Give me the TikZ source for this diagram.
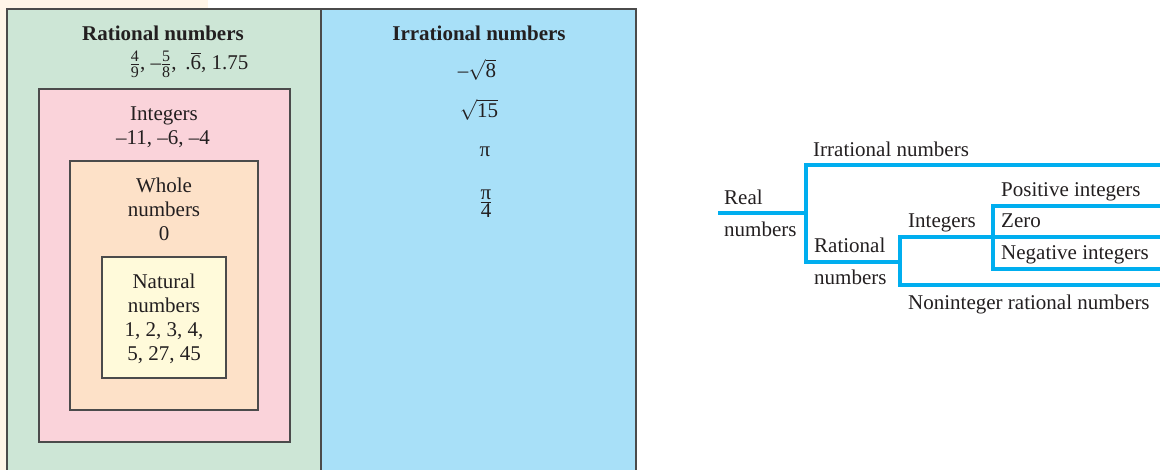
\documentclass[tikz,border=0pt]{standalone}
\usepackage{amsmath}
\usepackage{fontspec}
\setmainfont{Liberation Serif}
\definecolor{creambg}{RGB}{255,245,232}
\definecolor{ratgreen}{RGB}{205,230,214}
\definecolor{irrblue}{RGB}{168,224,248}
\definecolor{intpink}{RGB}{250,211,218}
\definecolor{wholeorange}{RGB}{253,225,200}
\definecolor{natyellow}{RGB}{255,250,218}
\definecolor{edgegray}{RGB}{75,75,75}
\definecolor{treeblue}{RGB}{0,174,239}
\definecolor{inkdark}{RGB}{35,31,32}
\newcommand\myfr[3]{\ensuremath{\genfrac{}{}{0.9pt}{1}{\text{\fontsize{#3}{#3}\selectfont #1}}{\text{\fontsize{#3}{#3}\selectfont #2}}}}
\tikzset{
  boxline/.style={draw=edgegray, line width=1.6pt},
  treeline/.style={draw=treeblue, line width=3.6pt},
  lbl/.style={anchor=base, inner sep=0pt, text=inkdark},
  tlbl/.style={anchor=base west, inner sep=0pt, text=inkdark},
}
\begin{document}
\begin{tikzpicture}[x=1pt,y=-1pt,font={\fontsize{21}{24}\selectfont}]
\useasboundingbox (0,0) rectangle (1160,470);
% background and boxes
\fill[creambg] (0,0) rectangle (208,470);
\path[boxline, fill=ratgreen] (7,9) rectangle (321,478);
\path[boxline, fill=irrblue] (321,9) rectangle (636,478);
\path[boxline, fill=intpink] (39,89) rectangle (290,442);
\path[boxline, fill=wholeorange] (70,161) rectangle (258,410);
\path[boxline, fill=natyellow] (102,257) rectangle (226,378);
% rational texts
\node[lbl] (ratT) at (163,41) {\textbf{Rational numbers}};
\node[lbl] (ratE) at (189,70) {\myfr{4}{9}{16}, –\myfr{5}{8}{16},\ \,.$\overline{\text{6}}$, 1.75};
\node[lbl] (intT) at (164,121) {Integers};
\node[lbl] (intE) at (163,145) {–11, –6, –4};
\node[lbl] (whT1) at (164,193) {Whole};
\node[lbl] (whT2) at (164,217) {numbers};
\node[lbl] (whE) at (164,241) {0};
\node[lbl] (natT1) at (164,289) {Natural};
\node[lbl] (natT2) at (164,313) {numbers};
\node[lbl] (natE1) at (164,337) {1, 2, 3, 4,};
\node[lbl] (natE2) at (164,361) {5, 27, 45};
% irrational texts
\node[lbl] (irrT) at (479,41) {\textbf{Irrational numbers}};
\node[lbl] (irr1) at (477,78) {–$\sqrt{\text{8}}$};
\node[lbl] (irr2) at (479,118) {$\sqrt{\text{15}}$};
\node[lbl] (irr3) at (485,157) {π};
\node[lbl] (irr4) at (486,208) {\myfr{π}{4}{21}};
% tree
\coordinate (realL) at (718,213);
\coordinate (realJ) at (806,213);
\coordinate (irrJ) at (806,165);
\coordinate (irrR) at (1160,165);
\coordinate (ratJ) at (806,262);
\coordinate (ratR) at (900,262);
\coordinate (intJ) at (900,237);
\coordinate (nonJ) at (900,285);
\coordinate (intR) at (1160,237);
\coordinate (nonR) at (1160,285);
\coordinate (posJ) at (993,206);
\coordinate (negJ) at (993,269);
\coordinate (posR) at (1160,206);
\coordinate (negR) at (1160,269);
\draw[treeline] (realL) -- (realJ);
\draw[treeline] (irrR) -- (irrJ) -- (ratJ) -- (ratR);
\draw[treeline] (intR) -- (intJ) -- (nonJ) -- (nonR);
\draw[treeline] (posR) -- (posJ) -- (negJ) -- (negR);
\node[tlbl] (tIrr) at (813,157) {Irrational numbers};
\node[tlbl] (tReal1) at (724,205) {Real};
\node[tlbl] (tReal2) at (724,237) {numbers};
\node[tlbl] (tRat1) at (814,253) {Rational};
\node[tlbl] (tRat2) at (814,285) {numbers};
\node[tlbl] (tInt) at (908,228) {Integers};
\node[tlbl] (tPos) at (1001,197) {Positive integers};
\node[tlbl] (tZero) at (1001,228) {Zero};
\node[tlbl] (tNeg) at (1001,260) {Negative integers};
\node[tlbl] (tNon) at (908,310) {Noninteger rational numbers};
\end{tikzpicture}
\end{document}
